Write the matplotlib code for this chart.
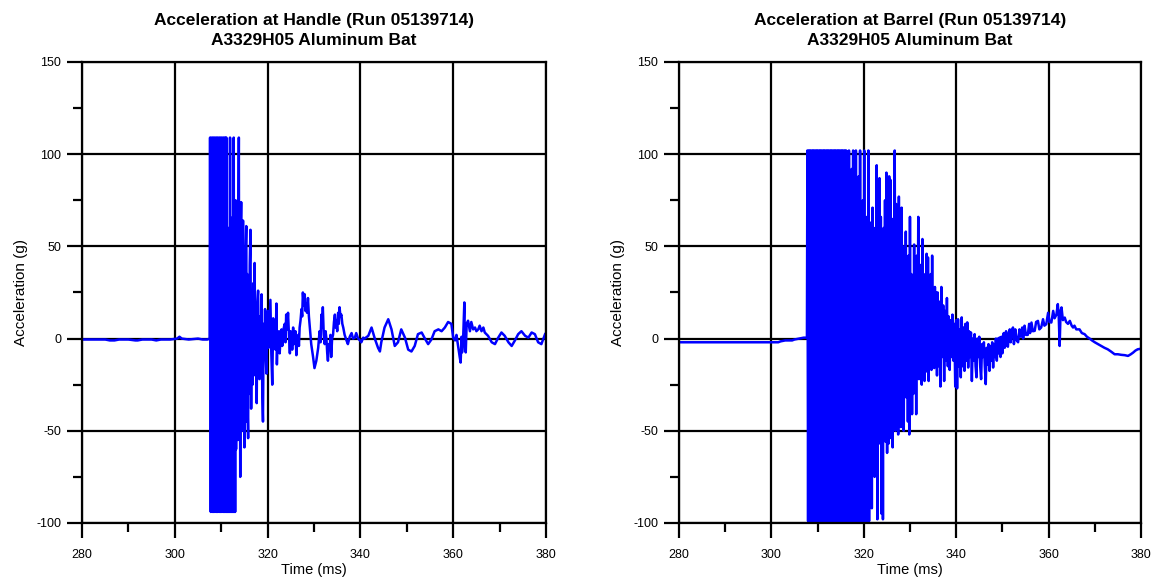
import matplotlib
matplotlib.use('Agg')
import matplotlib.pyplot as plt
from matplotlib.ticker import MultipleLocator
import numpy as np


# ---------------- handle accelerometer (g) vs time (ms) ----------------
handle_pre_t = [280.0, 283.0, 285.0, 286.0, 287.0, 288.0, 290.0, 291.5, 292.0, 293.0,
                295.0, 296.0, 297.0, 299.0, 300.5, 301.0, 301.5, 303.0, 305.0, 306.0,
                307.0, 307.5]
handle_pre_v = [-0.5, -0.5, -0.5, -1.0, -1.0, -0.5, -0.5, -1.0, -1.0, -0.5,
                -0.5, -1.0, -0.5, -0.5, 0.0, 1.0, 0.0, -0.5, 0.0, -0.5,
                -0.5, 0.0]

handle_burst_t = [307.6, 307.75, 307.9, 308.05, 308.2, 308.35, 308.5, 308.65, 308.8, 308.95,
                  309.1, 309.25, 309.4, 309.55, 309.7, 309.85, 310.0, 310.15, 310.3, 310.45,
                  310.6, 310.75, 310.9, 311.0]
handle_burst_v = [109, -94, 109, -94, 109, -94, 109, -94, 109, -94,
                  109, -94, 109, -94, 109, -94, 109, -94, 109, -94,
                  109, -94, 109, -94]

handle_decay_t = [311.1, 311.2, 311.3, 311.4, 311.5, 311.6, 311.7, 311.8, 311.9, 312.0,
                  312.1, 312.2, 312.3, 312.4, 312.5, 312.6, 312.7, 312.8, 312.9, 313.0,
                  313.1, 313.2, 313.3, 313.4, 313.5, 313.6, 313.7, 313.8, 313.9, 314.0,
                  314.1, 314.2, 314.3, 314.4, 314.5, 314.6, 314.7, 314.8, 314.9, 315.0,
                  315.1, 315.2, 315.3, 315.4, 315.5, 315.6, 315.7, 315.8, 315.9, 316.0,
                  316.15, 316.3, 316.45, 316.6, 316.75, 316.9, 317.05, 317.2, 317.35, 317.5,
                  317.65, 317.8, 317.95, 318.1, 318.25, 318.4, 318.55, 318.7, 318.85, 319.0,
                  319.15, 319.3, 319.45, 319.6, 319.75, 319.9]
handle_decay_v = [109, -94, 40, -94, 60, -94, 55, -94, 109, -94,
                  50, -94, 45, -94, 66, -94, 109, -94, 55, -94,
                  75, -60, 50, -50, 60, -55, 55, 109, -45, 50,
                  -75, 55, 74, -50, 50, -40, 64, -50, 45, -59,
                  40, -45, 50, 61, -45, 35, -40, -54, 30, -30,
                  40, 59, -38, 20, -25, 30, -15, 41, -20, 15,
                  -35, 20, 26, -10, -22, 12, -12, 24, -30, -45,
                  8, -8, 16, -10, -19, 10]

handle_tail_t = [320.05, 320.2, 320.4, 320.6, 320.8, 321.0, 321.2, 321.35, 321.5, 321.7,
                 321.9, 322.0, 322.15, 322.3, 322.45, 322.6, 322.8, 323.0, 323.15, 323.3,
                 323.5, 323.7, 323.85, 324.0, 324.2, 324.4, 324.6, 324.8, 324.95, 325.1,
                 325.3, 325.5, 325.65, 325.8, 326.0, 326.2, 326.4, 326.6, 326.75, 326.9,
                 327.1, 327.3, 327.45, 327.6, 327.8, 328.0, 328.15, 328.3, 328.5, 328.7,
                 328.9, 329.1, 329.4, 329.8, 330.1, 330.5, 330.9, 331.2, 331.4, 331.6,
                 331.75, 331.9, 332.1, 332.3, 332.5, 332.7, 332.85, 333.0, 333.2, 333.4,
                 333.55, 333.7, 333.9, 334.1, 334.3, 334.5, 334.65, 334.8, 335.0, 335.2,
                 335.35, 335.5, 335.7, 335.9, 336.1, 336.3,
                 336.6, 337.0, 337.3, 337.7, 338.1, 338.4, 338.8, 339.1, 339.5, 339.9,
                 340.2, 340.6, 340.9, 341.7, 342.4, 343.1, 343.8, 344.2, 344.5, 345.2,
                 346.0, 346.7, 347.4, 348.1, 348.8, 349.6, 350.3, 351.0, 351.7, 352.4,
                 353.2, 353.9, 354.6, 355.3, 356.0, 356.8, 357.5, 358.2, 358.9, 359.6,
                 360.0, 360.4, 360.7, 361.1, 361.4, 361.6, 361.8, 361.9, 362.1, 362.4,
                 362.5, 362.7, 362.9, 363.2, 363.6, 363.9, 364.3, 364.7, 365.0, 365.4,
                 365.7, 366.1, 366.5, 366.8, 367.5, 368.3, 369.0, 369.7, 370.4, 371.1,
                 371.9, 372.6, 373.3, 374.0, 374.7, 375.5, 376.2, 376.9, 377.6, 378.3,
                 379.0, 379.8]
handle_tail_v = [15, -5, 8, 21, -8, -25, 11, -2, 3, -6,
                 19, -14, 2, -6, 4, -8, 1, 5, -4, 0,
                 6, 8, -2, 13, 5, 14, 2, -8, 4, 3,
                 -6, 6, -3, -2, 4, -9, 1, 2, -4, 6,
                 10, 16, 12, 25, 18, 24, 15, 19, 14, 22,
                 12, 6, -3, -10, -16, -12, -5, 4, -2, 13,
                 6, 17, 2, -3, 4, -1, -8, -12, -3, -5,
                 2, -10, 0, 2, 9, 13, 6, 10, 4, 14,
                 8, 17, 12, 13, 8, 6,
                 2, -1, -3, 1, 3, 0, 0.5, 3, 0, -1,
                 -2, 0.5, 0, 1.5, 6, 0, -5, -7, -2, 6,
                 10.5, 5, -4, -2, 5, 0.5, -6, -7, -4, 2.4,
                 3.3, 0, -3, -0.5, 4, 5, 4, 6, 9, 8,
                 0.5, -1, 2, -5, -10, -13, 1, -7.5, -3, 19.6,
                 0, -7.5, 8, 9.7, 4, 9, 5, 6, 4, 5,
                 7, 4, 6, 3.3, 1.5, -2, -3, 0.5, 3.3, 1.5,
                 -2, -4, -1, 2.4, 4, 1.5, 0.5, 3.3, 2.4, -2,
                 -3, 2.4]

# ---------------- barrel accelerometer (g) vs time (ms) ----------------
barrel_pre_t = [280.0, 290.0, 300.0, 301.5, 302.0, 303.0, 304.5, 305.0, 306.0, 307.0, 307.7]
barrel_pre_v = [-2.0, -2.0, -2.0, -2.0, -1.5, -1.0, -1.0, -0.5, 0.0, 0.5, 0.5]

barrel_burst_t = [307.8, 307.95, 308.1, 308.25, 308.4, 308.55, 308.7, 308.85, 309.0, 309.15,
                  309.3, 309.45, 309.6, 309.75, 309.9, 310.05, 310.2, 310.35, 310.5, 310.65,
                  310.8, 310.95, 311.1, 311.25, 311.4, 311.55, 311.7, 311.85, 312.0, 312.15,
                  312.3, 312.45, 312.6, 312.75, 312.9, 313.05, 313.2, 313.35, 313.5, 313.65,
                  313.8, 313.95, 314.1, 314.25, 314.4, 314.55, 314.7, 314.85, 315.0, 315.15,
                  315.3, 315.45, 315.6, 315.75, 315.9, 316.05]
barrel_burst_v = [102, -99, 102, -99, 102, -99, 102, -99, 102, -99,
                  102, -99, 102, -99, 102, -99, 102, -99, 102, -99,
                  102, -99, 102, -99, 102, -99, 102, -99, 102, -99,
                  102, -99, 102, -99, 102, -99, 102, -99, 102, -99,
                  102, -99, 102, -99, 102, -99, 102, -99, 102, -99,
                  102, -99, 102, -99, 102, -99]

barrel_clip_t = [316.2, 316.35, 316.5, 316.65, 316.8, 316.95, 317.1, 317.25, 317.4, 317.55,
                 317.7, 317.85, 318.0, 318.15, 318.3, 318.45, 318.6, 318.75, 318.9, 319.05,
                 319.2, 319.35, 319.5, 319.65, 319.8, 319.95, 320.1, 320.25, 320.4, 320.55,
                 320.7, 320.85, 321.0, 321.15, 321.3]
barrel_clip_v = [102, -99, 85, -99, 102, -99, 80, -99, 92, -99,
                 102, -99, 70, -99, 102, -99, 80, -99, 88, -99,
                 102, -99, 62, -99, 75, -99, 102, -99, 60, -99,
                 66, -99, 102, -99, 55]

barrel_ring_t = [321.45, 321.6, 321.75, 321.9, 322.05, 322.2, 322.35, 322.5, 322.65, 322.8,
                 322.95, 323.1, 323.25, 323.4, 323.55, 323.7, 323.85, 324.0, 324.15, 324.3,
                 324.45, 324.6, 324.75, 324.9, 325.05, 325.2, 325.35, 325.5, 325.65, 325.8,
                 325.95, 326.1, 326.25, 326.4, 326.55, 326.7, 326.85,
                 327.0, 327.15, 327.3, 327.45, 327.6, 327.75, 327.9, 328.05, 328.2, 328.35,
                 328.5, 328.65, 328.8, 328.95, 329.1, 329.25, 329.4, 329.55, 329.7, 329.85,
                 330.0, 330.15, 330.3, 330.45, 330.6, 330.75, 330.9, 331.05, 331.2, 331.35,
                 331.5, 331.65, 331.8, 331.95, 332.1, 332.25, 332.4, 332.55, 332.7, 332.85,
                 333.0, 333.15, 333.3, 333.45, 333.6, 333.75, 333.9, 334.05, 334.2, 334.35,
                 334.5, 334.65, 334.8, 334.95, 335.1, 335.25, 335.4, 335.55, 335.7, 335.85]
barrel_ring_v = [-66, 63, -92, 71, -50, 60, -75, 45, -60, 94,
                 -98, 70, -57, 87, -40, 66, -95, 50, -98, 60,
                 -46, 75, -56, 90, -62, 55, -57, 88, -41, 86,
                 -54, 40, -59, 65, -35, 102, -50,
                 73, -39, 55, -52, 77, -30, 45, -48, 71, -40,
                 50, -50, 40, -28, 58, -32, 35, -45, 45, -52,
                 66, -30, 35, -41, 30, -30, 51, -25, 30, -41,
                 45, -20, 66, -22, 30, -19, 40, -25, 54, -15,
                 30, -23, 35, -12, 46, -18, 44, -23, 30, -15,
                 35, -17, 45, -12, 20, -16, 28, -10, 25, -20]

barrel_band_t = [336.0, 336.2, 336.4, 336.6, 336.8, 337.0, 337.2, 337.4, 337.6, 337.8,
                 338.0, 338.2, 338.4, 338.6, 338.8, 339.0, 339.2, 339.4, 339.6, 339.8,
                 340.0, 340.2, 340.4, 340.6, 340.8, 341.0, 341.2, 341.4, 341.6, 341.8,
                 342.0, 342.2, 342.4, 342.6, 342.8, 343.0, 343.2, 343.4, 343.6, 343.8,
                 344.0, 344.2, 344.4, 344.6, 344.8, 345.0, 345.2, 345.4, 345.6, 345.8,
                 346.0, 346.2, 346.4, 346.6, 346.8, 347.0, 347.2, 347.4, 347.6, 347.8,
                 348.0, 348.2, 348.4, 348.6, 348.8, 349.0, 349.2, 349.4, 349.6, 349.8]
barrel_band_v = [25, -15, 20, -26, 28, -10, 18, -23, 15, -12,
                 22, -15, 12, -17, 10, -10, 13, -12, 8, -26,
                 10, -27, 10.5, -15, 5, -21, 11.5, -15, 6, -17.5,
                 8, -12, 8.8, -15.7, 4, -10, 3.3, -23, 0, -12,
                 2.4, -15, -21, 0, -10, 1, -15, -22, -3, -10,
                 -2, -15, -24.7, -5, -14, -3, -17.5, -4, -12, -2,
                 -15.7, -3, -10, 0, -12, 0, -8, 0.6, -10, 1]

barrel_tail_t = [350.0, 350.3, 350.5, 350.8, 351.0, 351.2, 351.4, 351.6, 351.8, 352.0,
                 352.3, 352.5, 352.8, 353.1, 353.4, 353.7, 354.0, 354.3, 354.5, 354.8,
                 355.1, 355.5, 355.8, 356.0, 356.3, 356.6, 357.0, 357.3, 357.7, 358.0,
                 358.4, 358.8, 359.1, 359.5, 359.9, 360.2, 360.6, 361.0, 361.3, 361.7,
                 362.0, 362.2, 362.4, 362.6, 362.8, 363.1, 363.5, 363.8, 364.2, 364.6,
                 365.0, 365.3, 365.6, 366.0, 366.7, 367.2, 367.8, 368.3, 368.9, 369.4,
                 370.0, 370.7, 371.4, 372.1, 372.8, 373.5, 374.3, 375.0, 375.7, 376.5,
                 377.2, 377.8, 378.3, 378.8, 379.3, 380.0]
barrel_tail_v = [-8, 3, -5, 4, -4, -4.4, 3, 5, -2, 4,
                 6, -3, 5, -1, -2, 5, 1, 6, 0, 7,
                 2, 2, 8, 3, 8.7, 4, 4.2, 9, 9.6, 5,
                 6, 10.5, 7, 7.8, 14, 9, 8.7, 15, 11, 13,
                 18.7, 12, -4, 15, 16.9, 10, 11.4, 9, 8, 9.6,
                 7, 6, 7, 5, 5, 3, 2.4, 1, 0, -1,
                 -2, -3, -4, -5, -5.8, -7, -8.5, -8.5, -8.8, -9,
                 -9.4, -8.5, -7.6, -6.5, -5.8, -5.5]

x_ticks = [280, 300, 320, 340, 360, 380]
y_ticks = [-100, -50, 0, 50, 100, 150]

handle_title = 'Acceleration at Handle (Run 05139714)\nA3329H05 Aluminum Bat'
barrel_title = 'Acceleration at Barrel (Run 05139714)\nA3329H05 Aluminum Bat'


def style_axes(ax, title):
    """
    black box, black grid, outward ticks
    """
    ax.set_xlim(280, 380)
    ax.set_ylim(-100, 150)
    ax.set_xticks(x_ticks)
    ax.set_yticks(y_ticks)
    ax.xaxis.set_minor_locator(MultipleLocator(10))
    ax.yaxis.set_minor_locator(MultipleLocator(25))
    ax.grid(True, which='major', color='black', linewidth=1.6)
    ax.set_axisbelow(True)
    for sp in ax.spines.values():
        sp.set_linewidth(1.6)
        sp.set_color('black')
    ax.tick_params(which='major', direction='out', length=11, width=1.6,
                   labelsize=9, pad=4, colors='black')
    ax.tick_params(which='minor', direction='out', length=6.5, width=1.6)
    ax.tick_params(axis='x', pad=8)
    ax.set_xlabel('Time (ms)', fontsize=10.5, labelpad=1)
    ax.set_ylabel('Acceleration (g)', fontsize=11, labelpad=6)
    ax.set_title(title, fontsize=12.5, fontweight='bold', pad=12, linespacing=1.45)


def plot_run():
    """
    two panel acceleration plot
    """
    plt.rcParams['font.family'] = ['Liberation Sans', 'DejaVu Sans']
    plt.rcParams['axes.unicode_minus'] = False

    fig = plt.figure(figsize=(11.6, 5.82), dpi=100)
    ax1 = fig.add_axes([0.0707, 0.1014, 0.4, 0.7921])
    ax2 = fig.add_axes([0.5853, 0.1014, 0.3983, 0.7921])

    th = np.concatenate([handle_pre_t, handle_burst_t, handle_decay_t, handle_tail_t])
    vh = np.concatenate([handle_pre_v, handle_burst_v, handle_decay_v, handle_tail_v])
    tb = np.concatenate([barrel_pre_t, barrel_burst_t, barrel_clip_t, barrel_ring_t,
                         barrel_band_t, barrel_tail_t])
    vb = np.concatenate([barrel_pre_v, barrel_burst_v, barrel_clip_v, barrel_ring_v,
                         barrel_band_v, barrel_tail_v])

    ax1.plot(th, vh, color='#0000ff', linewidth=1.8)
    ax2.plot(tb, vb, color='#0000ff', linewidth=1.8)

    style_axes(ax1, handle_title)
    style_axes(ax2, barrel_title)

    fig.savefig('out.png', dpi=100, facecolor='white')


plot_run()
